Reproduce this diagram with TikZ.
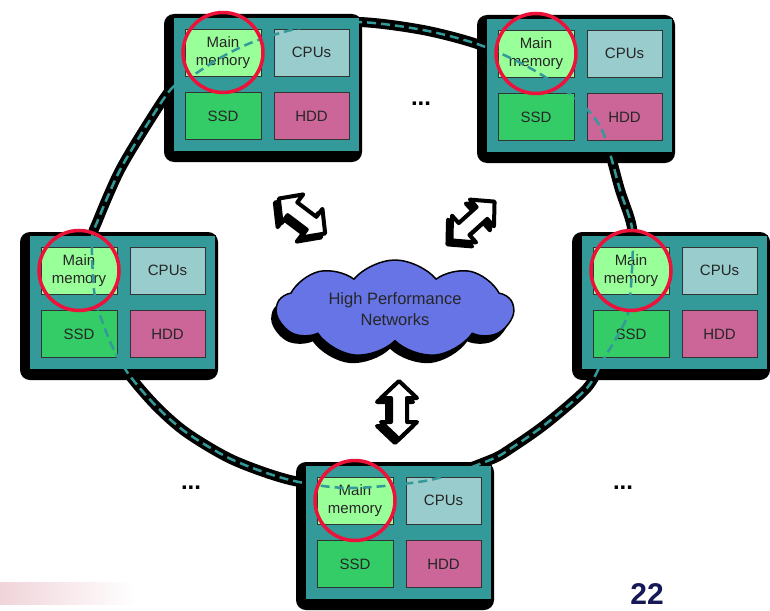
\documentclass[tikz,border=0pt]{standalone}
\usepackage{fontspec}
\setmainfont{Liberation Sans}
\usetikzlibrary{shapes.symbols,shadows}

\definecolor{tealc}{RGB}{51,153,153}
\definecolor{memc}{RGB}{153,255,153}
\definecolor{cpuc}{RGB}{153,204,204}
\definecolor{ssdc}{RGB}{51,204,102}
\definecolor{hddc}{RGB}{204,102,153}
\definecolor{cloudc}{RGB}{102,116,230}
\definecolor{ringred}{RGB}{236,18,58}
\definecolor{navyc}{RGB}{22,24,88}
\definecolor{smearc}{RGB}{240,212,218}

\tikzset{
  cellbase/.style={draw=black!80, line width=0.8pt, minimum width=76pt,
    minimum height=47pt, inner sep=0pt, align=center, text=black!85,
    font=\fontsize{15}{18}\selectfont},
  memcell/.style={cellbase, fill=memc},
  cpucell/.style={cellbase, fill=cpuc, minimum width=75pt},
  ssdcell/.style={cellbase, fill=ssdc},
  hddcell/.style={cellbase, fill=hddc, minimum width=75pt},
  tealbox/.style={fill=tealc, draw=black, line width=0.6pt, inner sep=0pt,
    minimum width=186pt, minimum height=134pt},
  memring/.style={draw=ringred, line width=3.5pt},
  dotsmark/.style={font=\bfseries\fontsize{24}{24}\selectfont, anchor=base, inner sep=0pt},
  % one compute server: shadow, teal housing and its four parts
  pics/server/.style={code={
    \fill[black, rounded corners=10pt] (-9,-3) rectangle (189,145);
    \node[tealbox] (-box) at (93,67) {};
    \node[memcell] (-mem) at (50,35.5) {Main\\memory};
    \node[cpucell] (-cpu) at (138.5,35.5) {CPUs};
    \node[ssdcell] (-ssd) at (50,99) {SSD};
    \node[hddcell] (-hdd) at (138.5,99) {HDD};
  }}
}

% white double block arrow with black outline and shadow
\newcommand\arrowoutline{(-29,0) -- (-12,18) -- (-12,8) -- (12,8) -- (12,18) -- (29,0)
    -- (12,-18) -- (12,-8) -- (-12,-8) -- (-12,-18) -- cycle}
\newcommand\blockarrow[3]{%
  \filldraw[black, line width=4pt, line join=round, shift={(#1-4,#2+4)}, rotate=#3]
    \arrowoutline;
  \filldraw[fill=white, draw=black, line width=4pt, line join=round, shift={(#1,#2)}, rotate=#3]
    \arrowoutline;
}

% the ring linking the main memories
\newcommand\ringcurve{plot[smooth cycle, tension=0.5] coordinates {
  (150,120) (172,88) (192,76) (220,58) (253,42) (300,28) (358,22) (423,30)
  (480,45) (530,68) (575,98) (602,130) (620,190) (632,228) (632,270)
  (628,313) (618,335) (603,360) (587,388) (547,423) (513,447) (490,460)
  (430,480) (350,488) (290,480) (233,460) (187,433) (157,407) (130,376)
  (113,348) (100,315) (94,290) (92,240) (98,220) (120,170)}}

\begin{document}
\begin{tikzpicture}[x=1pt,y=-1pt]
\useasboundingbox (0,0) rectangle (770,610);

% faint smear in the lower left corner
\shade[left color=smearc, right color=white] (0,582) rectangle (135,604);

% dark under-stroke of the ring
\draw[black, line width=10pt, line join=round] \ringcurve;

% servers
\pic (tl) at (173,17) {server};
\pic (tr) at (486,18) {server};
\pic (lf) at (29,235) {server};
\pic (rt) at (581,235) {server};
\pic (bt) at (305,465) {server};

% dashed teal ring on top
\draw[tealc, line width=2.5pt, dash pattern=on 9pt off 5pt] \ringcurve;

% highlighted main memories
\foreach \s in {tl,tr,lf,rt,bt}
  \draw[memring] (\s-mem.center) circle[radius=40pt];

% network cloud
\node[cloud, cloud puffs=9, cloud puff arc=100, cloud ignores aspect,
  minimum width=236pt, minimum height=98pt, inner sep=0pt,
  fill=cloudc, draw=black, line width=1.5pt,
  general shadow={fill=black, shadow xshift=-5pt, shadow yshift=-8pt},
  align=center, text=black!85, font=\fontsize{16.5}{21}\selectfont]
  (net) at (395,309) {High Performance\\Networks};

% links between the cloud and the ring
\blockarrow{302}{216}{-37}
\blockarrow{473}{221}{42}
\blockarrow{399}{410}{90}

% ellipses between servers
\node[dotsmark] (dotstop) at (421,105) {...};
\node[dotsmark] (dotsleft) at (191,489) {...};
\node[dotsmark] (dotsright) at (623,489) {...};

% page number
\node[font=\bfseries\fontsize{30}{30}\selectfont, text=navyc, anchor=base, inner sep=0pt]
  (pagenum) at (647,604) {22};
\end{tikzpicture}
\end{document}
